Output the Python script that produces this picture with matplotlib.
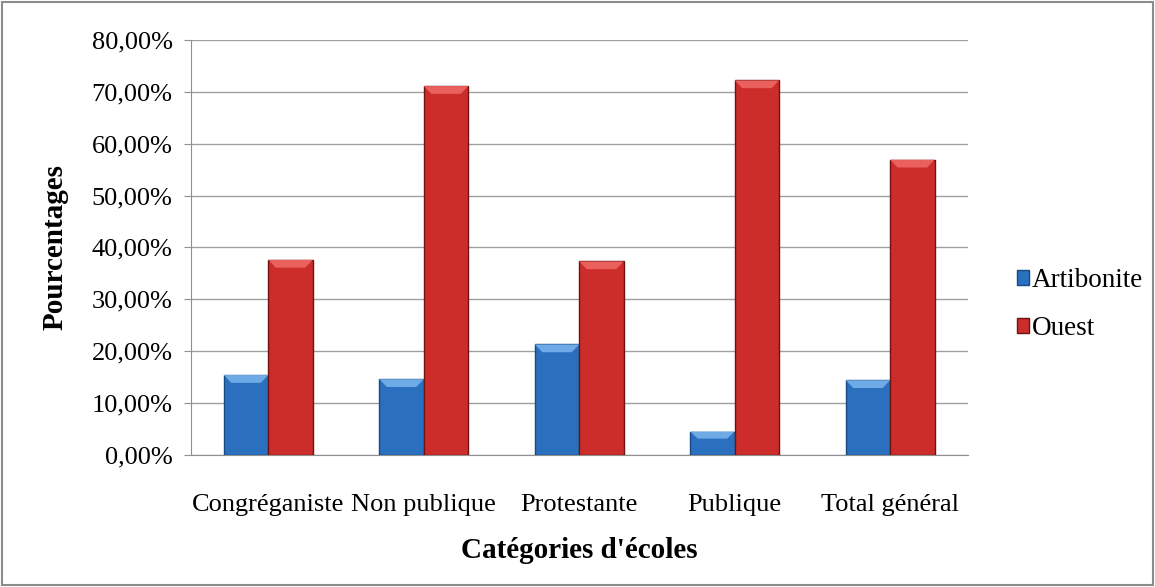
import numpy as np
import matplotlib
matplotlib.use("Agg")
import matplotlib.pyplot as plt
from matplotlib.patches import Rectangle, Polygon
from matplotlib.ticker import FuncFormatter

# data (percent)
categories = ["Congréganiste", "Non publique", "Protestante", "Publique", "Total général"]
artibonite = [15.4, 14.6, 21.3, 4.5, 14.4]
ouest = [37.6, 71.1, 37.3, 72.2, 56.9]

plt.rcParams["font.family"] = ["Liberation Serif", "DejaVu Serif"]

fig = plt.figure(figsize=(11.55, 5.87), dpi=100)
ax = fig.add_axes([0.165, 0.225, 0.673, 0.707])

x = np.arange(len(categories))
w = 0.286

b1 = ax.bar(x - w / 2, artibonite, w, color="#2b70bf", edgecolor="#174a82",
            linewidth=1.0, label="Artibonite", zorder=3)
b2 = ax.bar(x + w / 2, ouest, w, color="#cc2d2b", edgecolor="#6e1212",
            linewidth=1.0, label="Ouest", zorder=3)

# bevelled top face to hint at the 3D look
for bars, top_col in ((b1, "#6eaae6"), (b2, "#e9605c")):
    for r in bars:
        x0, x1, h = r.get_x(), r.get_x() + r.get_width(), r.get_height()
        bh = min(1.5, h * 0.3)
        d = r.get_width() * 0.17
        ax.add_patch(Polygon([(x0, h), (x1, h), (x1 - d, h - bh), (x0 + d, h - bh)],
                             closed=True, color=top_col, zorder=4, linewidth=0))

ax.set_xlim(-0.5, len(categories) - 0.5)
ax.set_ylim(0, 80)
ax.set_yticks(np.arange(0, 81, 10))
ax.yaxis.set_major_formatter(FuncFormatter(lambda v, p: f"{v:.2f}".replace(".", ",") + "%"))
ax.set_xticks(x)
ax.set_xticklabels(categories)

ax.grid(axis="y", color="#a0a0a0", linewidth=1.0, zorder=0)
for s in ("top", "right"):
    ax.spines[s].set_visible(False)
ax.spines["left"].set_color("#909090")
ax.spines["bottom"].set_color("#909090")
ax.tick_params(axis="y", labelsize=19, length=5, color="#909090", pad=8)
ax.tick_params(axis="x", labelsize=19, length=0, pad=28)

fig.text(0.048, 0.579, "Pourcentages", fontsize=21, fontweight="bold",
         rotation=90, ha="center", va="center")
fig.text(0.502, 0.063, "Catégories d'écoles", fontsize=21, fontweight="bold",
         ha="center", va="center")

leg = fig.legend(loc="center left", bbox_to_anchor=(0.869, 0.481), frameon=False,
                 fontsize=19.5, handlelength=0.45, handleheight=0.45,
                 handletextpad=0.1, labelspacing=0.85, borderpad=0)

# chart area border
fig.patches.append(Rectangle((0.002, 0.003), 0.996, 0.994, transform=fig.transFigure,
                             fill=False, edgecolor="#8c8c8c", linewidth=1.5))

fig.savefig("out.png", dpi=100)
